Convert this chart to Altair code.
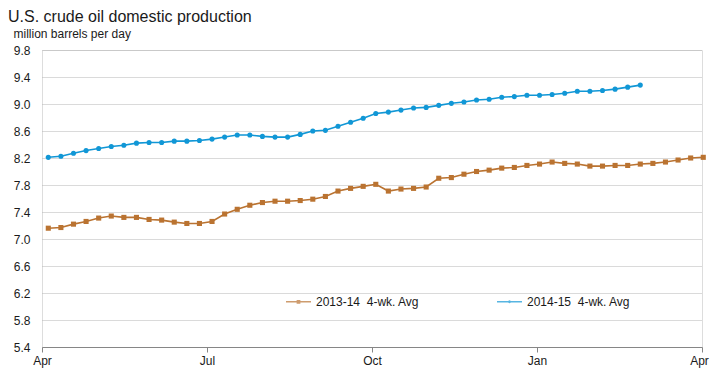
import altair as alt
import pandas as pd

# Weekly 4-week average values (million barrels per day)
series_names = ["2013-14\u00a0 4-wk. Avg", "2014-15\u00a0 4-wk. Avg"]
colors = ["#BA7331", "#1197D6"]

values_2013_14 = [
    7.16, 7.17, 7.22, 7.26, 7.31, 7.34, 7.32, 7.32, 7.29, 7.28, 7.25, 7.23, 7.23, 7.26,
    7.37, 7.44, 7.50, 7.54, 7.56, 7.56, 7.57, 7.59, 7.63, 7.71, 7.75, 7.78, 7.81, 7.71,
    7.74, 7.75, 7.77, 7.90, 7.91, 7.96, 8.00, 8.02, 8.05, 8.06, 8.09, 8.11, 8.14, 8.12,
    8.11, 8.08, 8.08, 8.09, 8.09, 8.11, 8.12, 8.14, 8.17, 8.20, 8.21,
]
values_2014_15 = [
    8.21, 8.225, 8.27, 8.31, 8.34, 8.37, 8.39, 8.42, 8.43, 8.43, 8.45, 8.45, 8.46, 8.48,
    8.51, 8.54, 8.54, 8.52, 8.51, 8.51, 8.55, 8.60, 8.61, 8.67, 8.73, 8.79, 8.86, 8.88,
    8.91, 8.94, 8.95, 8.98, 9.01, 9.03, 9.06, 9.07, 9.10, 9.11, 9.13, 9.13, 9.14, 9.16,
    9.19, 9.19, 9.20, 9.22, 9.25, 9.28,
]

# x axis: week index; month tick positions (in weeks) and labels
tick_weeks = [-0.5, 12.6, 25.7, 38.8, 51.9]
tick_labels = ["Apr", "Jul", "Oct", "Jan", "Apr"]
y_ticks = [5.4, 5.8, 6.2, 6.6, 7.0, 7.4, 7.8, 8.2, 8.6, 9.0, 9.4, 9.8]

rows = []
for name, vals in zip(series_names, [values_2013_14, values_2014_15]):
    for i, v in enumerate(vals):
        rows.append({"week": i, "value": v, "series": name})
df = pd.DataFrame(rows)

label_expr = " : ".join(
    f"datum.value < {w + 1} ? '{lab}'" for w, lab in zip(tick_weeks[:-1], tick_labels[:-1])
) + f" : '{tick_labels[-1]}'"

FONT = "Liberation Sans"
TXT = "#1a1a1a"

x_enc = alt.X(
    "week:Q",
    scale=alt.Scale(domain=[tick_weeks[0], tick_weeks[-1]], nice=False, zero=False),
    axis=alt.Axis(
        values=tick_weeks, labelExpr=label_expr, title=None, grid=False,
        domainColor="#868686", tickColor="#868686", tickSize=5, labelPadding=3,
        labelFontSize=12, labelColor=TXT, labelFont=FONT,
        labelAngle=0, labelFlush=False, labelOverlap=False,
        labelOffset={"condition": {"test": f"datum.value > {tick_weeks[-2] + 1}", "value": -3},
                     "value": 0},
    ),
)
y_enc = alt.Y(
    "value:Q",
    scale=alt.Scale(domain=[5.4, 9.8], nice=False, zero=False),
    axis=alt.Axis(
        values=y_ticks, format=".1f", domain=False, ticks=False,
        labelPadding=12, labelFontSize=12, labelColor=TXT,
        labelFont=FONT, gridColor="#B4B4B4", gridDash=[1, 1],
        gridWidth=1, labelFlush=False,
        title="million barrels per day", titleAngle=0, titleAlign="left",
        titleBaseline="alphabetic", titleX=-29, titleY=-13,
        titleFont=FONT, titleFontSize=12, titleFontWeight="normal", titleColor=TXT,
    ),
)

# data-driven domains here so these (hidden) guides are not merged with the legend
stroke_scale = alt.Scale(range=colors)

lines = alt.Chart(df).mark_line(strokeWidth=1.6).encode(
    x=x_enc, y=y_enc,
    stroke=alt.Stroke("series:N", scale=stroke_scale, legend=None),
)

squares = alt.Chart(df).transform_filter(
    alt.datum.series == series_names[0]
).mark_point(shape="square", filled=True, size=26, opacity=1).encode(
    x=x_enc, y=y_enc,
    fill=alt.Fill("series:N", scale=stroke_scale, legend=None),
)

circles = alt.Chart(df).transform_filter(
    alt.datum.series == series_names[1]
).mark_point(shape="circle", filled=True, size=26, opacity=1).encode(
    x=x_enc, y=y_enc,
    fill=alt.Fill("series:N", scale=stroke_scale, legend=None),
)

legend_paths = [
    "M-1,0H1M-0.09,-0.09H0.09V0.09H-0.09Z",
    "M-1,0H1M0.06,0A0.06,0.06,0,1,1,-0.06,0A0.06,0.06,0,1,1,0.06,0Z",
]

legend_props = dict(
    title=None, orient="none", legendX=243, legendY=238,
    direction="horizontal", symbolSize=625, symbolStrokeWidth=1.5,
    labelFontSize=12, labelFont=FONT, labelColor=TXT,
    columnPadding=74, labelOffset=4,
)

legend_layer = alt.Chart(df).transform_filter("false").mark_point(
    size=625, strokeWidth=1.5
).encode(
    x=x_enc, y=y_enc,
    color=alt.Color("series:N", scale=alt.Scale(domain=series_names, range=colors),
                    legend=alt.Legend(**legend_props)),
    shape=alt.Shape("series:N", scale=alt.Scale(domain=series_names, range=legend_paths),
                    legend=alt.Legend(**legend_props)),
)

chart = alt.layer(lines, squares, circles, legend_layer).properties(
    width=660,
    height=297,
    autosize=alt.AutoSizeParams(type="none"),
    padding={"left": 34, "top": 42, "right": 8, "bottom": 30},
    title=alt.TitleParams(
        text="U.S. crude oil domestic production",
        anchor="start", frame="group", dx=-34, offset=2,
        font=FONT, fontSize=16, fontWeight="normal", color=TXT,
    ),
).configure_view(stroke=None).configure(background="white")

chart.save("out.html", embed_options={"renderer": "svg", "actions": False})
